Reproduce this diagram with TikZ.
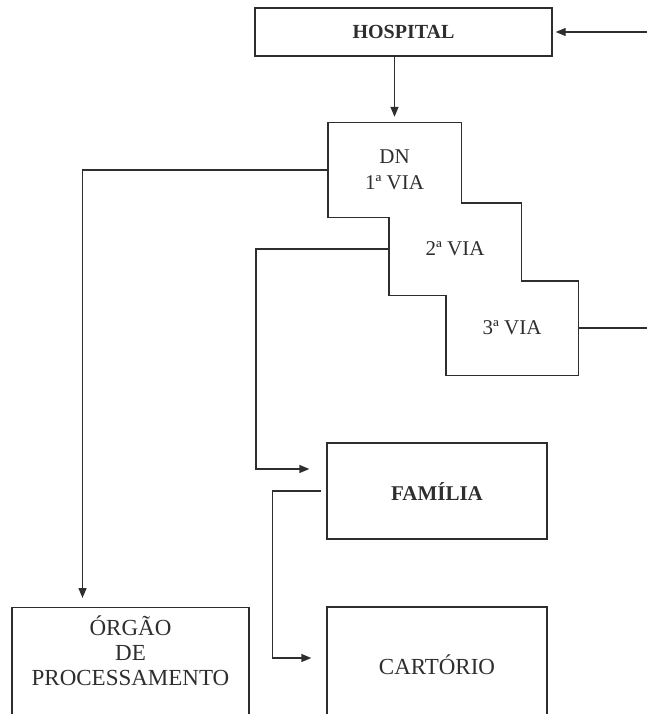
\documentclass[tikz,border=0pt]{standalone}
\usepackage{fontspec}
\setmainfont{Liberation Serif}
\usetikzlibrary{arrows.meta,positioning}
\definecolor{ink}{HTML}{2E2E2E}
\tikzset{
  box/.style={draw=ink, line width=1.4pt, inner sep=0pt, text=ink},
  via/.style={inner sep=0pt, text=ink, minimum width=133pt, minimum height=94pt,
    font=\fontsize{21}{26}\selectfont, align=center},
  arr/.style={draw=ink, line width=1.4pt, -{Triangle[length=10pt,width=8pt]}},
  line/.style={draw=ink, line width=1.4pt}
}
\begin{document}
\begin{tikzpicture}[x=1pt, y=-1pt]
  \useasboundingbox (0,0) rectangle (647,714);
  \clip (0,0) rectangle (647,714);
  % boxes
  \node[box, minimum width=297pt, minimum height=48pt,
    font=\bfseries\fontsize{20}{24}\selectfont] (hospital) at (403.5,32) {HOSPITAL};
  \node[via] (dn) at (394.5,170) {DN\\1ª VIA};
  \node[via, minimum width=132pt, minimum height=92pt] (via2) at (455,249) {2ª VIA};
  \node[via, minimum width=132pt] (via3) at (512,328) {3ª VIA};
  \node[box, minimum width=220pt, minimum height=96pt,
    font=\bfseries\fontsize{21}{25}\selectfont] (familia) at (437,491) {FAMÍLIA};
  \node[box, minimum width=220pt, minimum height=116pt,
    font=\fontsize{23}{27}\selectfont] (cartorio) at (437,665) {CARTÓRIO};
  \node[box, minimum width=237pt, minimum height=130pt, anchor=north] (orgao) at (130.5,607) {};
  \node[text=ink, align=center, font=\fontsize{23}{25}\selectfont,
    below=5pt of orgao.north] (orgaotxt) {ÓRGÃO\\DE\\PROCESSAMENTO};
  % outline of the three copies
  \draw[line] (dn.north west) -- (dn.north east) -- (dn.east |- via2.north)
    -- (via2.north east) -- (via2.east |- via3.north) -- (via3.north east)
    -- (via3.south east) -- (via3.south west) -- (via3.west |- via2.south)
    -- (via2.south west) -- (via2.west |- dn.south) -- (dn.south west) -- cycle;
  % connectors
  \coordinate (edgeA) at (647,32);
  \coordinate (edgeB) at (647,328);
  \draw[arr, shorten >=3pt] (edgeA) -- (hospital.east);
  \draw[arr, shorten >=6pt] (hospital.south -| dn.north) -- (dn.north);
  \draw[line] (via3.east) -- (edgeB);
  \draw[arr, shorten >=9pt] (dn.west) -| ([xshift=-48pt]orgao.north);
  \draw[arr, shorten >=17pt] (via2.west) -- ++(-133,0) |- ([yshift=22pt]familia.west);
  \draw[arr, shorten <=5pt, shorten >=15pt] (familia.west) -- ++(-54,0)
    |- ([yshift=7pt]cartorio.west);
\end{tikzpicture}
\end{document}
